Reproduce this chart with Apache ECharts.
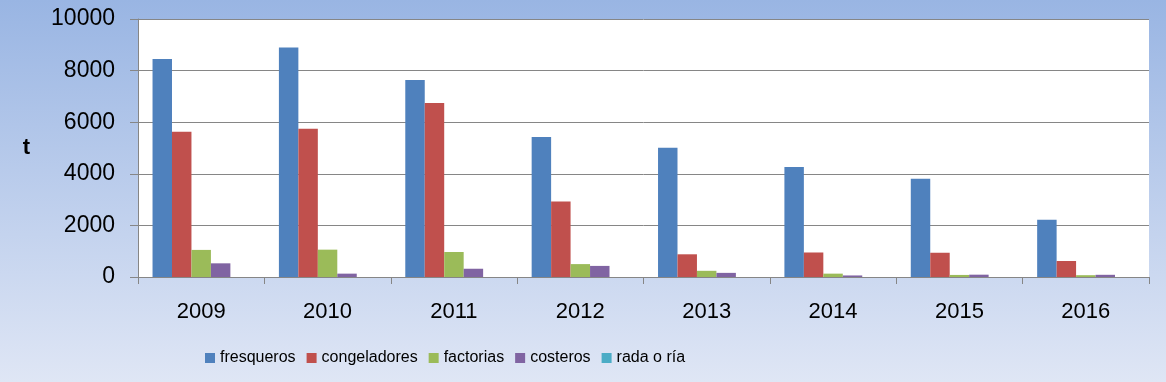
<!DOCTYPE html>
<html>
<head>
<meta charset="utf-8">
<script src="https://cdn.jsdelivr.net/npm/echarts@6/dist/echarts.min.js"></script>
<style>
html,body{margin:0;padding:0;}
#c{width:1166px;height:382px;}
</style>
</head>
<body>
<div id="c"></div>
<script>
const categories = ['2009','2010','2011','2012','2013','2014','2015','2016'];
const fresqueros = [8450, 8900, 7640, 5430, 5010, 4260, 3810, 2220];
const congeladores = [5630, 5750, 6740, 2930, 880, 950, 940, 620];
const factorias = [1050, 1060, 970, 500, 240, 130, 80, 70];
const costeros = [530, 130, 320, 430, 160, 60, 90, 85];
const radaOria = [0, 0, 0, 0, 0, 0, 0, 0];
const seriesNames = ['fresqueros','congeladores','factorias','costeros','rada o ría'];
const yTicks = [0, 2000, 4000, 6000, 8000, 10000];

const colors = ['#4F81BD','#C0504D','#9BBB59','#8064A2','#4BACC6'];
const values = [fresqueros, congeladores, factorias, costeros, radaOria];
const font = 'Liberation Sans, Arial, sans-serif';

const chart = echarts.init(document.getElementById('c'));
chart.setOption({
  backgroundColor: new echarts.graphic.LinearGradient(0,0,0,1,[
    {offset:0,color:'#99B5E3'},
    {offset:1,color:'#DFE6F5'}
  ]),
  animation:false,
  color: colors,
  grid:{left:138,right:17,top:19,bottom:105,containLabel:false,show:true,backgroundColor:'#FFFFFF',borderWidth:0},
  legend:{
    top:345,
    left:200,
    itemWidth:10,itemHeight:10,itemGap:11,
    icon:'rect',
    textStyle:{fontFamily:font,fontSize:16,color:'#000'},
    data: seriesNames
  },
  xAxis:{
    type:'category',
    data:categories,
    axisLine:{lineStyle:{color:'#868686',width:1}},
    axisTick:{show:true,length:7,lineStyle:{color:'#868686'}},
    axisLabel:{fontFamily:font,fontSize:22,color:'#000',margin:24}
  },
  yAxis:{
    type:'value',
    min:yTicks[0],max:yTicks[yTicks.length-1],interval:2000,
    name:'t',
    nameLocation:'middle',
    nameRotate:0,
    nameGap:108,
    nameTextStyle:{fontFamily:font,fontSize:22,fontWeight:'bold',color:'#000',padding:[0,0,38,0]},
    axisLine:{show:true,lineStyle:{color:'#868686',width:1}},
    axisTick:{show:true,length:8,lineStyle:{color:'#868686'}},
    splitLine:{lineStyle:{color:'#868686',width:1}},
    axisLabel:{fontFamily:font,fontSize:23,color:'#000',margin:23,formatter:v=>String(v)}
  },
  series: seriesNames.map((n,i)=>({
    name:n,
    type:'bar',
    data:values[i],
    barGap:'0%',
    barCategoryGap:'23%',
    itemStyle:{color:colors[i]}
  }))
});
</script>
</body>
</html>
